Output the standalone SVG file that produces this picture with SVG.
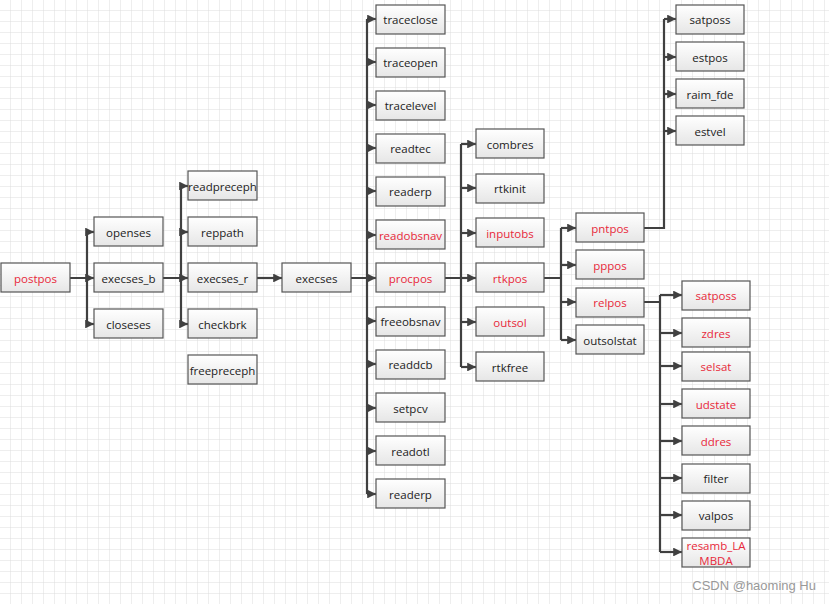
<svg xmlns="http://www.w3.org/2000/svg" width="829" height="604" viewBox="0 0 829 604">
<defs>
<pattern id="grid" width="11" height="11" patternUnits="userSpaceOnUse"><path d="M11 0V11M0 11H11" fill="none" stroke="#dcdcdc" stroke-width="1"/></pattern>
<linearGradient id="g" x1="0" y1="0" x2="0" y2="1"><stop offset="0" stop-color="#ffffff"/><stop offset="1" stop-color="#e6e6e6"/></linearGradient>
<marker id="a" viewBox="0 0 10 10" refX="10" refY="5" markerWidth="4" markerHeight="4" orient="auto"><path d="M0 0L10 5L0 10Z" fill="#404040"/></marker>
<style>
.b rect{fill:url(#g);stroke:#555;stroke-width:1.2}
.b text{font-family:"Open Sans","DejaVu Sans",sans-serif;font-size:11.5px;text-anchor:middle;dominant-baseline:central;fill:#222}
.r text{fill:#e8283a}
.c path{fill:none;stroke:#404040;stroke-width:2.2}
.c .ar{marker-end:url(#a)}
</style>
</defs>
<rect width="829" height="604" fill="#fff"/>
<rect x="0" y="0" width="829" height="604" fill="url(#grid)"/>
<g class="c">
<path d="M70 278H87M87 232V324"/>
<path class="ar" d="M87 232H94"/><path class="ar" d="M87 278H94"/><path class="ar" d="M87 324H94"/>
<path d="M163 278H181M181 186V324"/>
<path class="ar" d="M181 186H188"/><path class="ar" d="M181 232H188"/><path class="ar" d="M181 278H188"/><path class="ar" d="M181 324H188"/>
<path class="ar" d="M257 278H282"/>
<path d="M351 278H367M367 19V494"/>
<path class="ar" d="M367 19H376"/><path class="ar" d="M367 62H376"/><path class="ar" d="M367 105H376"/><path class="ar" d="M367 148H376"/><path class="ar" d="M367 191H376"/><path class="ar" d="M367 235H376"/><path class="ar" d="M367 278H376"/><path class="ar" d="M367 321H376"/><path class="ar" d="M367 364H376"/><path class="ar" d="M367 408H376"/><path class="ar" d="M367 451H376"/><path class="ar" d="M367 494H376"/>
<path d="M445 278H461M461 144V367"/>
<path class="ar" d="M461 144H476"/><path class="ar" d="M461 188H476"/><path class="ar" d="M461 233H476"/><path class="ar" d="M461 278H476"/><path class="ar" d="M461 322H476"/><path class="ar" d="M461 367H476"/>
<path d="M544 278H561M561 228V340"/>
<path class="ar" d="M561 228H576"/><path class="ar" d="M561 265H576"/><path class="ar" d="M561 302H576"/><path class="ar" d="M561 340H576"/>
<path d="M644 228H664V19"/>
<path class="ar" d="M664 19H676"/><path class="ar" d="M664 57H676"/><path class="ar" d="M664 94H676"/><path class="ar" d="M664 131H676"/>
<path d="M644 302H660M660 295V552"/>
<path class="ar" d="M660 295H682"/><path class="ar" d="M660 333H682"/><path class="ar" d="M660 366H682"/><path class="ar" d="M660 404H682"/><path class="ar" d="M660 441H682"/><path class="ar" d="M660 478H682"/><path class="ar" d="M660 515H682"/><path class="ar" d="M660 552H682"/>
</g>
<g id="postpos" class="b r"><rect x="1" y="263" width="69" height="29"/><text x="35.5" y="278">postpos</text></g>
<g id="openses" class="b"><rect x="94" y="217" width="69" height="29"/><text x="128.5" y="232">openses</text></g>
<g id="execses_b" class="b"><rect x="94" y="263" width="69" height="29"/><text x="128.5" y="278">execses_b</text></g>
<g id="closeses" class="b"><rect x="94" y="309" width="69" height="29"/><text x="128.5" y="324">closeses</text></g>
<g id="readpreceph" class="b"><rect x="188" y="171" width="69" height="29"/><text x="222.5" y="186">readpreceph</text></g>
<g id="reppath" class="b"><rect x="188" y="217" width="69" height="29"/><text x="222.5" y="232">reppath</text></g>
<g id="execses_r" class="b"><rect x="188" y="263" width="69" height="29"/><text x="222.5" y="278">execses_r</text></g>
<g id="checkbrk" class="b"><rect x="188" y="309" width="69" height="29"/><text x="222.5" y="324">checkbrk</text></g>
<g id="freepreceph" class="b"><rect x="188" y="355" width="69" height="29"/><text x="222.5" y="370">freepreceph</text></g>
<g id="execses" class="b"><rect x="282" y="263" width="69" height="29"/><text x="316.5" y="278">execses</text></g>
<g id="traceclose" class="b"><rect x="376" y="5" width="69" height="29"/><text x="410.5" y="19">traceclose</text></g>
<g id="traceopen" class="b"><rect x="376" y="48" width="69" height="29"/><text x="410.5" y="62">traceopen</text></g>
<g id="tracelevel" class="b"><rect x="376" y="91" width="69" height="29"/><text x="410.5" y="105">tracelevel</text></g>
<g id="readtec" class="b"><rect x="376" y="134" width="69" height="29"/><text x="410.5" y="148">readtec</text></g>
<g id="readerp1" class="b"><rect x="376" y="177" width="69" height="29"/><text x="410.5" y="191">readerp</text></g>
<g id="readobsnav" class="b r"><rect x="376" y="220" width="69" height="29"/><text x="410.5" y="235">readobsnav</text></g>
<g id="procpos" class="b r"><rect x="376" y="263" width="69" height="29"/><text x="410.5" y="278">procpos</text></g>
<g id="freeobsnav" class="b"><rect x="376" y="307" width="69" height="29"/><text x="410.5" y="321">freeobsnav</text></g>
<g id="readdcb" class="b"><rect x="376" y="350" width="69" height="29"/><text x="410.5" y="364">readdcb</text></g>
<g id="setpcv" class="b"><rect x="376" y="393" width="69" height="29"/><text x="410.5" y="408">setpcv</text></g>
<g id="readotl" class="b"><rect x="376" y="436" width="69" height="29"/><text x="410.5" y="451">readotl</text></g>
<g id="readerp2" class="b"><rect x="376" y="479" width="69" height="29"/><text x="410.5" y="494">readerp</text></g>
<g id="combres" class="b"><rect x="476" y="129" width="68" height="29"/><text x="510" y="144">combres</text></g>
<g id="rtkinit" class="b"><rect x="476" y="174" width="68" height="29"/><text x="510" y="188">rtkinit</text></g>
<g id="inputobs" class="b r"><rect x="476" y="218" width="68" height="29"/><text x="510" y="233">inputobs</text></g>
<g id="rtkpos" class="b r"><rect x="476" y="263" width="68" height="29"/><text x="510" y="278">rtkpos</text></g>
<g id="outsol" class="b r"><rect x="476" y="307" width="68" height="29"/><text x="510" y="322">outsol</text></g>
<g id="rtkfree" class="b"><rect x="476" y="352" width="68" height="29"/><text x="510" y="367">rtkfree</text></g>
<g id="pntpos" class="b r"><rect x="576" y="213" width="68" height="29"/><text x="610" y="228">pntpos</text></g>
<g id="pppos" class="b r"><rect x="576" y="250" width="68" height="29"/><text x="610" y="265">pppos</text></g>
<g id="relpos" class="b r"><rect x="576" y="288" width="68" height="29"/><text x="610" y="302">relpos</text></g>
<g id="outsolstat" class="b"><rect x="576" y="325" width="68" height="29"/><text x="610" y="340">outsolstat</text></g>
<g id="satposs1" class="b"><rect x="676" y="5" width="68" height="29"/><text x="710" y="19">satposs</text></g>
<g id="estpos" class="b"><rect x="676" y="42" width="68" height="29"/><text x="710" y="57">estpos</text></g>
<g id="raim_fde" class="b"><rect x="676" y="79" width="68" height="29"/><text x="710" y="94">raim_fde</text></g>
<g id="estvel" class="b"><rect x="676" y="116" width="68" height="29"/><text x="710" y="131">estvel</text></g>
<g id="satposs2" class="b r"><rect x="682" y="281" width="68" height="29"/><text x="716" y="295">satposs</text></g>
<g id="zdres" class="b r"><rect x="682" y="318" width="68" height="29"/><text x="716" y="333">zdres</text></g>
<g id="selsat" class="b r"><rect x="682" y="352" width="68" height="29"/><text x="716" y="366">selsat</text></g>
<g id="udstate" class="b r"><rect x="682" y="389" width="68" height="29"/><text x="716" y="404">udstate</text></g>
<g id="ddres" class="b r"><rect x="682" y="426" width="68" height="29"/><text x="716" y="441">ddres</text></g>
<g id="filter" class="b"><rect x="682" y="464" width="68" height="29"/><text x="716" y="478">filter</text></g>
<g id="valpos" class="b"><rect x="682" y="501" width="68" height="29"/><text x="716" y="515">valpos</text></g>
<g id="resamb_LAMBDA" class="b r"><rect x="682" y="538" width="68" height="29"/><text x="716" y="545">resamb_LA</text><text x="716" y="560">MBDA</text></g>
<text x="816" y="590" font-family="Liberation Sans,sans-serif" font-size="13" fill="#999" text-anchor="end">CSDN @haoming Hu</text>
</svg>
